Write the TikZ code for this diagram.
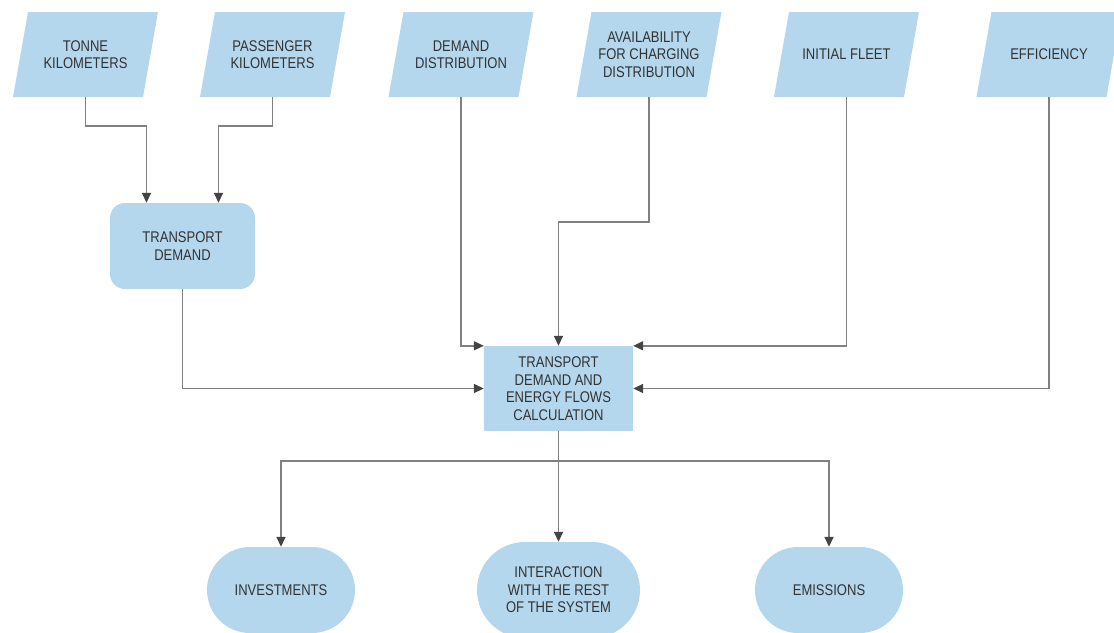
\documentclass[tikz,border=0pt]{standalone}
\usepackage{fontspec}
\newfontfamily\diagfont{Liberation Sans}[FakeStretch=0.84]
\usetikzlibrary{arrows.meta,calc}

\definecolor{boxblue}{RGB}{180,215,238}
\definecolor{linegray}{RGB}{128,128,128}
\definecolor{tipgray}{RGB}{68,68,68}
\definecolor{textgray}{RGB}{50,50,50}

\begin{document}
\begin{tikzpicture}[x=1pt, y=-1pt,
  every node/.style={font=\diagfont\fontsize{15.5}{17.5}\selectfont, text=textgray, align=center, inner sep=3pt},
  inbox/.style={minimum width=145pt, minimum height=85pt,
    path picture={\fill[boxblue] (path picture bounding box.south west)
      -- ([xshift=-15pt]path picture bounding box.south east)
      -- (path picture bounding box.north east)
      -- ([xshift=15pt]path picture bounding box.north west) -- cycle;}},
  tdbox/.style={fill=boxblue, rounded corners=15pt, minimum width=145pt, minimum height=86pt},
  calcbox/.style={fill=boxblue, minimum width=149pt, minimum height=85pt},
  outbox/.style={fill=boxblue, rounded corners=43pt, minimum width=148pt, minimum height=86pt},
  flow/.style={draw=linegray, line width=1.7pt, -{Triangle[length=10pt, width=9pt, color=tipgray]}}
]
  \useasboundingbox (0,0) rectangle (1114,632);

  % --- input data (parallelograms) ---
  \node[inbox] (tonne) at (85.5,54.5)  {TONNE\\KILOMETERS};
  \node[inbox] (pass)  at (272.5,54.5) {PASSENGER\\KILOMETERS};
  \node[inbox] (ddist) at (461,54.5)   {DEMAND\\DISTRIBUTION};
  \node[inbox] (avail) at (649,54.5)   {AVAILABILITY\\FOR CHARGING\\DISTRIBUTION};
  \node[inbox] (fleet) at (846.5,54.5) {INITIAL FLEET};
  \node[inbox] (eff)   at (1049,54.5)  {EFFICIENCY};

  % --- processes ---
  \node[tdbox]   (tdem) at (182.5,246)   {TRANSPORT\\DEMAND};
  \node[calcbox] (calc) at (558.5,388.5) {TRANSPORT\\DEMAND AND\\ENERGY FLOWS\\CALCULATION};

  % --- outputs ---
  \node[outbox] (inv)   at (281,590)   {INVESTMENTS};
  \node[outbox, minimum width=163pt, minimum height=96pt, rounded corners=48pt]
    (inter) at (558.5,590) {INTERACTION\\WITH THE REST\\OF THE SYSTEM};
  \node[outbox] (emis)  at (829,590)   {EMISSIONS};

  % --- connectors ---
  \draw[flow] (tonne.south) -- ++(0,29) -| ([xshift=-36pt]tdem.north);
  \draw[flow] (pass.south) -- ++(0,29) -| ([xshift=36pt]tdem.north);
  \draw[flow] (ddist.south) |- (calc.north west);
  \draw[flow] (avail.south) -- ++(0,125) -| (calc.north);
  \draw[flow] (fleet.south) |- (calc.north east);
  \draw[flow] (eff.south) |- (calc.east);
  \draw[flow] (tdem.south) |- (calc.west);

  \draw[flow] (calc.south) -- (inter.north);
  \draw[flow] (calc.south) -- ++(0,30) -| (inv.north);
  \draw[flow] (calc.south) -- ++(0,30) -| (emis.north);
\end{tikzpicture}
\end{document}
